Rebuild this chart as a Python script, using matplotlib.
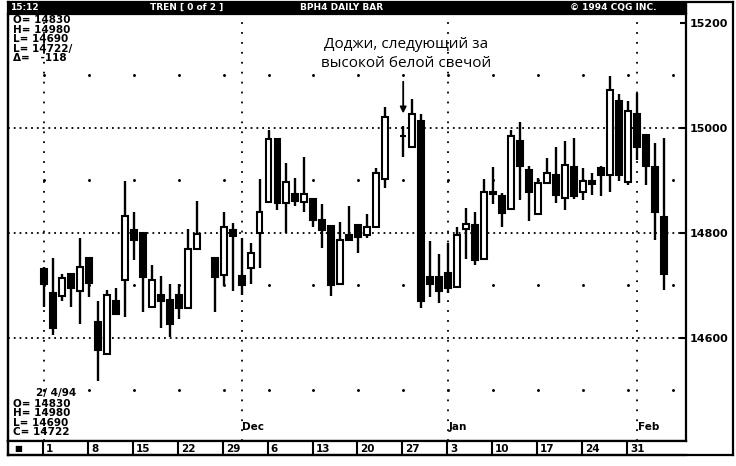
import numpy as np
import matplotlib.pyplot as plt
from matplotlib.patches import Rectangle
from matplotlib.lines import Line2D

# ===== Data (daily bars) =====
dates = ['1993-11-01', '1993-11-02', '1993-11-03', '1993-11-04', '1993-11-05',
         '1993-11-08', '1993-11-09', '1993-11-10', '1993-11-11', '1993-11-12',
         '1993-11-15', '1993-11-16', '1993-11-17', '1993-11-18', '1993-11-19',
         '1993-11-22', '1993-11-23', '1993-11-24', '1993-11-26',
         '1993-11-29', '1993-11-30', '1993-12-01', '1993-12-02', '1993-12-03',
         '1993-12-06', '1993-12-07', '1993-12-08', '1993-12-09', '1993-12-10',
         '1993-12-13', '1993-12-14', '1993-12-15', '1993-12-16', '1993-12-17',
         '1993-12-20', '1993-12-21', '1993-12-22', '1993-12-23',
         '1993-12-27', '1993-12-28', '1993-12-29', '1993-12-30', '1993-12-31',
         '1994-01-03', '1994-01-04', '1994-01-05', '1994-01-06', '1994-01-07',
         '1994-01-10', '1994-01-11', '1994-01-12', '1994-01-13', '1994-01-14',
         '1994-01-17', '1994-01-18', '1994-01-19', '1994-01-20', '1994-01-21',
         '1994-01-24', '1994-01-25', '1994-01-26', '1994-01-27', '1994-01-28',
         '1994-01-31', '1994-02-01', '1994-02-02', '1994-02-03', '1994-02-04']

opens = [14730, 14686, 14679, 14721, 14688,
         14751, 14630, 14569, 14670, 14709,
         14806, 14800, 14659, 14681, 14672,
         14681, 14657, 14769, 14751,
         14719, 14806, 14717, 14732, 14800,
         14859, 14978, 14856, 14874, 14859,
         14865, 14825, 14813, 14703, 14796,
         14814, 14796, 14810, 14902,
         14984, 14964, 15013, 14715, 14716,
         14723, 14697, 14808, 14815, 14749,
         14877, 14870, 14846, 14975, 14919,
         14836, 14894, 14910, 14867, 14926,
         14878, 14899, 14923, 14910, 15051,
         14897, 15026, 14986, 14926, 14830]

highs = [14735, 14751, 14721, 14723, 14789,
         14752, 14670, 14690, 14694, 14899,
         14840, 14802, 14738, 14718, 14702,
         14702, 14808, 14861, 14752,
         14839, 14818, 14789, 14780, 14902,
         14996, 14980, 14933, 14904, 14944,
         14867, 14854, 14813, 14821, 14851,
         14816, 14836, 14924, 15040,
         15003, 15054, 15026, 14785, 14759,
         14781, 14811, 14848, 14840, 14902,
         14926, 14876, 14996, 15010, 14927,
         14904, 14942, 14964, 14975, 14980,
         14923, 14914, 14927, 15098, 15065,
         15050, 15067, 14986, 14970, 14980]

lows = [14659, 14605, 14669, 14658, 14627,
        14678, 14518, 14569, 14646, 14640,
        14748, 14648, 14659, 14618, 14601,
        14635, 14657, 14769, 14648,
        14698, 14688, 14681, 14702, 14732,
        14859, 14843, 14800, 14850, 14840,
        14811, 14770, 14679, 14703, 14786,
        14761, 14789, 14810, 14886,
        14944, 14964, 14656, 14678, 14667,
        14686, 14694, 14749, 14738, 14749,
        14855, 14811, 14846, 14862, 14823,
        14834, 14893, 14856, 14843, 14864,
        14862, 14872, 14870, 14878, 14899,
        14891, 14938, 14891, 14787, 14690]

closes = [14703, 14618, 14714, 14695, 14734,
          14705, 14576, 14681, 14646, 14832,
          14786, 14716, 14709, 14670, 14626,
          14656, 14768, 14797, 14715,
          14811, 14794, 14700, 14762, 14840,
          14978, 14857, 14897, 14861, 14874,
          14824, 14805, 14700, 14787, 14786,
          14792, 14811, 14913, 15021,
          14984, 15027, 14669, 14703, 14688,
          14694, 14796, 14816, 14748, 14878,
          14874, 14837, 14984, 14927, 14878,
          14894, 14913, 14872, 14929, 14870,
          14899, 14893, 14910, 15071, 14910,
          15032, 14963, 14927, 14840, 14722]

week_starts = ['1993-11-01', '1993-11-08', '1993-11-15', '1993-11-22', '1993-11-29',
               '1993-12-06', '1993-12-13', '1993-12-20', '1993-12-27', '1994-01-03',
               '1994-01-10', '1994-01-17', '1994-01-24', '1994-01-31']
week_labels = ['1', '8', '15', '22', '29', '6', '13', '20', '27', '3', '10', '17', '24', '31']

month_starts = ['1993-11-01', '1993-12-01', '1994-01-03', '1994-02-01']
month_labels = ['', 'Dec', 'Jan', 'Feb']

grid_levels = [14600, 14800, 15000]
dot_levels = [14500, 14700, 14900, 15100]
price_ticks = [14600, 14800, 15000, 15200]

info_top = ['O= 14830', 'H= 14980', 'L= 14690', 'L= 14722/', '\u0394=   -118']
info_bottom = ['O= 14830', 'H= 14980', 'L= 14690', 'C= 14722']
note_text = 'Доджи, следующий за\nвысокой белой свечой'
doji_date = '1993-12-27'

# ===== Layout =====
W, H = 736, 466
def fx(x):
    return x / W
def fy(y):
    return 1 - y / H

x0_px, step_px = 44, 8.98          # first bar position / pixels per weekday
y_ref_px, y_ref, ppx = 232.7, 14800, 1.905   # price per pixel
L_px, R_px, T_px, B_px = 8, 686, 14, 441

base = np.datetime64(dates[0])
def day_idx(d):
    return np.busday_count(base, np.datetime64(d))

xi = np.array([day_idx(d) for d in dates])
o = np.array(opens, float)
h = np.array(highs, float)
lo = np.array(lows, float)
c = np.array(closes, float)

fig = plt.figure(figsize=(W / 100, H / 100), dpi=100)
fig.patch.set_facecolor('white')

ax = fig.add_axes([fx(L_px), fy(B_px), fx(R_px) - fx(L_px), fy(T_px) - fy(B_px)])
ax.set_xlim((L_px - x0_px) / step_px, (R_px - x0_px) / step_px)
ax.set_ylim(y_ref - (B_px - y_ref_px) * ppx, y_ref + (y_ref_px - T_px) * ppx)

# grid
for lev in grid_levels:
    ax.axhline(lev, color='k', lw=1.3, ls=(0, (1, 2.2)), zorder=1)
for d in month_starts:
    ax.axvline(day_idx(d), color='k', lw=1.3, ls=(0, (1, 4.5)), zorder=1)
wk = np.array([day_idx(d) for d in week_starts] + [day_idx('1994-02-07')])
gx, gy = np.meshgrid(wk, dot_levels)
ax.plot(gx.ravel(), gy.ravel(), 'k.', ms=2.2, zorder=1)

# candles
ax.vlines(xi, lo, h, color='k', lw=1.7, zorder=2)
body_col = np.where(c > o, 'white', 'black')
ax.bar(xi, np.abs(c - o), bottom=np.minimum(o, c), width=0.66,
       color=body_col, edgecolor='k', linewidth=1.5, zorder=3)

# month labels
for d, lab in zip(month_starts, month_labels):
    ax.text(day_idx(d) + 0.1, 14420, lab, fontsize=7.5, fontweight='bold',
            ha='left', va='bottom')

# annotation
di = day_idx(doji_date)
ax.annotate('', xy=(di, 15022), xytext=(di, 15093),
            arrowprops=dict(arrowstyle='-|>', color='k', lw=1.3, mutation_scale=9))
ax.text(di + 0.35, 15140, note_text, fontsize=11, family='Open Sans',
        ha='center', va='center', linespacing=1.35)

# right price axis
ax.yaxis.tick_right()
ax.set_yticks(price_ticks)
ax.set_yticklabels([str(p) for p in price_ticks], fontsize=8, fontweight='bold')
ax.tick_params(axis='y', direction='in', length=4, width=1.5, pad=3)
ax.set_xticks([])
for s in ax.spines.values():
    s.set_linewidth(1.6)

# bottom date strip
sax = fig.add_axes([fx(L_px), fy(455), fx(R_px) - fx(L_px), fy(B_px) - fy(455)])
sax.set_xlim(ax.get_xlim())
sax.set_ylim(0, 1)
sax.set_xticks([])
sax.set_yticks([])
for s in sax.spines.values():
    s.set_linewidth(1.6)
sax.spines['right'].set_visible(False)
for d, lab in zip(week_starts, week_labels):
    k = day_idx(d)
    sax.axvline(k - 0.1, color='k', lw=1.5)
    sax.text(k + 0.25, 0.45, lab, fontsize=7.5, fontweight='bold', ha='left', va='center')
sax.text(-3.3, 0.45, '\u25a0', fontsize=6, ha='left', va='center')

# title band
fig.add_artist(Rectangle((fx(L_px), fy(13)), fx(R_px) - fx(L_px), fy(2) - fy(13),
                         transform=fig.transFigure, color='k'))
for x, t in [(10, '15:12'), (150, 'TREN [ 0 of 2 ]'), (300, 'BPH4 DAILY BAR'),
             (570, '\u00a9 1994 CQG INC.')]:
    fig.text(fx(x), fy(7.5), t, color='white', fontsize=6.5, fontweight='bold',
             ha='left', va='center')

# outer frame
for (xa, ya, xb, yb) in [(L_px, 2, 733, 2), (733, 2, 733, 455), (L_px, 455, 733, 455),
                         (L_px, 2, L_px, 455)]:
    fig.add_artist(Line2D([fx(xa), fx(xb)], [fy(ya), fy(yb)], color='k', lw=1.6,
                          transform=fig.transFigure))

# info texts
for i, t in enumerate(info_top):
    fig.text(fx(13), fy(20 + i * 9.6), t, fontsize=7.5, fontweight='bold', va='center')
fig.text(fx(36), fy(393), '2/ 4/94', fontsize=7.5, fontweight='bold', va='center')
for i, t in enumerate(info_bottom):
    fig.text(fx(13), fy(404 + i * 9.4), t, fontsize=7.5, fontweight='bold', va='center')

plt.savefig('out.png', dpi=100)
plt.close()
